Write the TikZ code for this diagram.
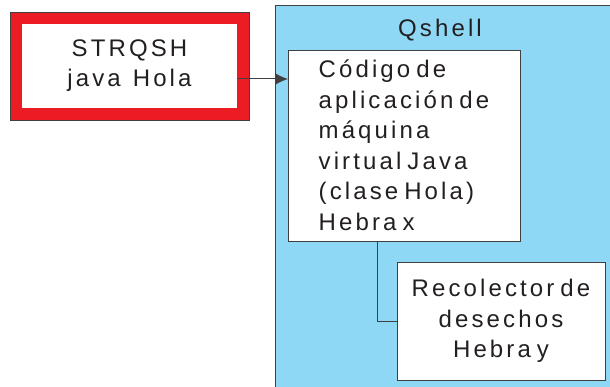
\documentclass[tikz,border=0pt]{standalone}
\usepackage{fontspec}
\setmainfont{Liberation Sans}[LetterSpace=13]
\usetikzlibrary{arrows.meta}
\definecolor{shellblue}{RGB}{142,216,246}
\definecolor{cmdred}{RGB}{236,28,36}
\definecolor{ink}{RGB}{35,31,32}
\definecolor{edge}{RGB}{64,64,64}
\newcommand\wideword{\spaceskip=12pt\relax}
\newcommand\tightword{\spaceskip=6pt\relax}

\begin{document}
\begin{tikzpicture}[x=1pt,y=1pt,>=Latex,
shell/.style={draw=edge,fill=shellblue,line width=0.8pt,minimum width=340pt,minimum height=386pt},
cmdbox/.style={draw=cmdred,fill=white,line width=12pt,outer sep=0pt,minimum width=227pt,minimum height=96pt,align=center,text=ink,font=\fontsize{24}{30}\selectfont\wideword},
box/.style={draw=edge,fill=white,line width=0.8pt,outer sep=0pt,text=ink,font=\fontsize{24}{30.5}\selectfont\tightword},
flow/.style={-{Latex[length=13pt,width=12pt]},draw=edge,line width=1pt},
link/.style={draw=edge,line width=0.8pt}]
\useasboundingbox (0,0) rectangle (610,386);
\clip (0,0) rectangle (610,386);
\node[shell] (qsh) at (445,188) {};
\node[text=ink,font=\fontsize{24}{28}\selectfont] (title) at (440,356) {Qshell};
\node[cmdbox] (cmd) at (129.5,320) {STRQSH\\java Hola};
\draw[edge,line width=0.8pt] ([shift={(-6pt,-6pt)}]cmd.south west) rectangle ([shift={(6pt,6pt)}]cmd.north east);
\node[box,minimum width=232pt,minimum height=191pt,align=left] (jvm) at (404,240.5)
  {Código de\\aplicación de\\máquina\\virtual Java\\(clase Hola)\\Hebra x};
\node[box,minimum width=208pt,minimum height=118pt,align=center] (gc) at (501,65)
  {Recolector de\\desechos\\Hebra y};
\draw[flow] ([xshift=-6pt,yshift=-13pt]cmd.east) coordinate (a) -- (a -| jvm.west);
\draw[link] ([xshift=-27pt]jvm.south) |- (gc.west);
\end{tikzpicture}
\end{document}
